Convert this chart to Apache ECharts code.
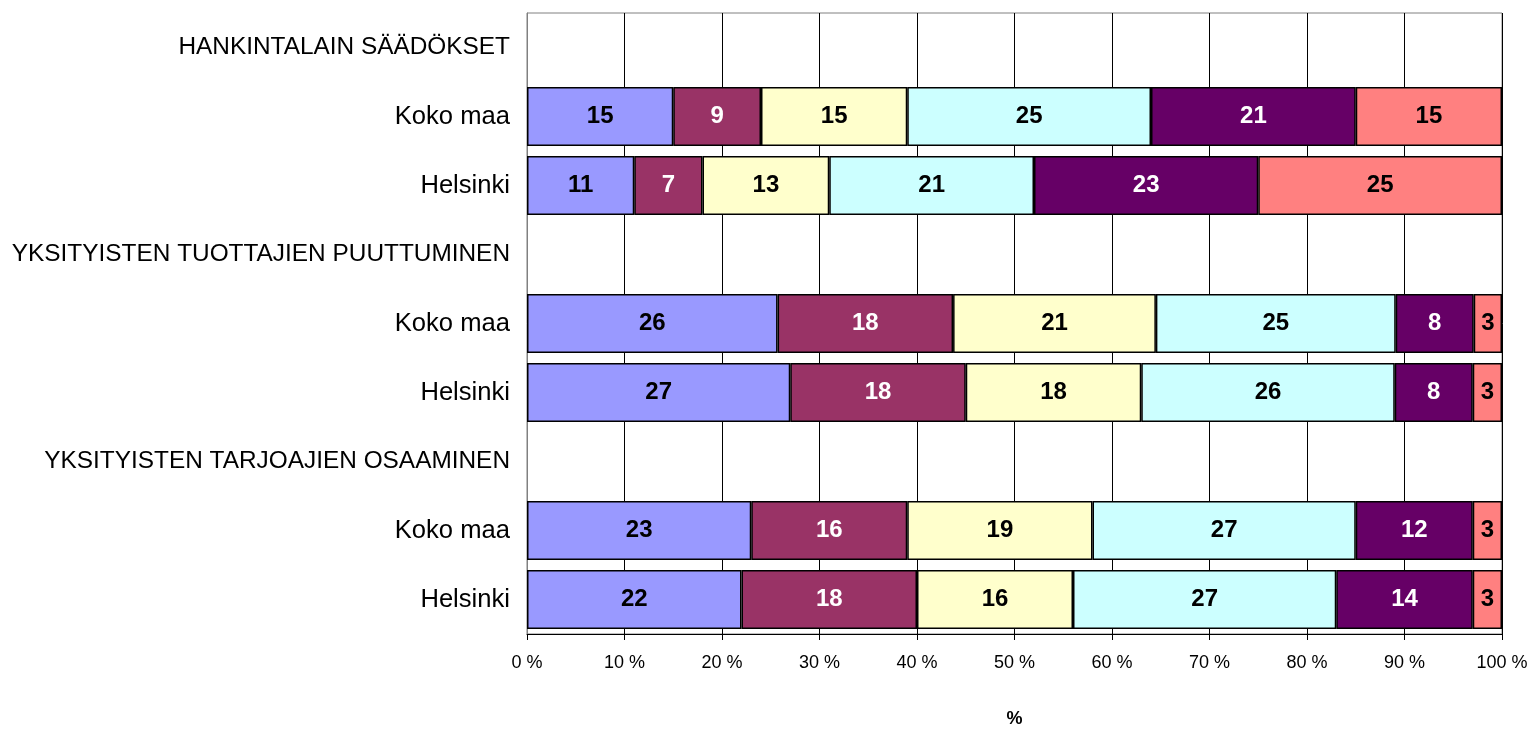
<!DOCTYPE html>
<html>
<head>
<meta charset="utf-8">
<script src="https://cdn.jsdelivr.net/npm/echarts@6/dist/echarts.min.js"></script>
<style>
html,body{margin:0;padding:0;background:#fff;}
#chart{width:1535px;height:733px;}
</style>
</head>
<body>
<div id="chart"></div>
<script>
const categories = ['HANKINTALAIN SÄÄDÖKSET','Koko maa','Helsinki','YKSITYISTEN TUOTTAJIEN PUUTTUMINEN','Koko maa','Helsinki','YKSITYISTEN TARJOAJIEN OSAAMINEN','Koko maa','Helsinki'];
const headerRows = [0,3,6];
const seriesNames = ['1','2','3','4','5','6'];
const s1 = [null,15,11,null,25.7,27,null,23,22];
const s2 = [null,9,7,null,18.0,18,null,16,18];
const s3 = [null,15,13,null,20.8,18,null,19,16];
const s4 = [null,25,21,null,24.6,26,null,27,27];
const s5 = [null,21,23,null,8.0,8,null,12,14];
const s6 = [null,15,25,null,2.9,3,null,3,3];
const xTicks = [0,10,20,30,40,50,60,70,80,90,100];

const values = [s1,s2,s3,s4,s5,s6];
const colors = ['#9999FF','#993366','#FFFFCC','#CCFFFF','#660066','#FF8080'];
const labelColors = ['#000','#fff','#000','#000','#fff','#000'];
const FONT = 'Arial, "Liberation Sans", sans-serif';

const chart = echarts.init(document.getElementById('chart'));
chart.setOption({
  animation:false,
  backgroundColor:'#fff',
  grid:{left:527,right:33,top:13,bottom:93,containLabel:false,show:true,borderColor:'#808080',borderWidth:1},
  xAxis:{
    type:'value',min:xTicks[0],max:xTicks[xTicks.length-1],interval:10,
    name:'%',nameLocation:'middle',nameGap:76,
    nameTextStyle:{fontFamily:FONT,fontSize:18,fontWeight:'bold',color:'#000'},
    axisLine:{show:true,lineStyle:{color:'#000',width:1}},
    axisTick:{show:true,length:6,lineStyle:{color:'#000'}},
    axisLabel:{fontFamily:FONT,fontSize:18,color:'#000',margin:20,formatter:'{value} %'},
    splitLine:{show:true,lineStyle:{color:'#000',width:1}}
  },
  yAxis:{
    type:'category',inverse:true,data:categories,
    axisLine:{show:true,lineStyle:{color:'#808080'}},
    axisTick:{show:false},
    axisLabel:{fontFamily:FONT,fontSize:24,color:'#000',margin:17,
      formatter:(v,i)=>headerRows.indexOf(i)>=0?'{h|'+v+'}':'{r|'+v+'}',
      rich:{h:{fontFamily:FONT,fontSize:24.4,color:'#000'},r:{fontFamily:FONT,fontSize:25.6,color:'#000'}}}
  },
  series: values.map((v,i)=>({
    name:seriesNames[i],type:'bar',stack:'all',data:v,barWidth:59,
    itemStyle:{color:colors[i],borderColor:'#000',borderWidth:1.5},
    label:{show:true,position:'inside',fontFamily:FONT,fontSize:24,fontWeight:'bold',color:labelColors[i],
      formatter:p=>p.value==null?'':String(Math.round(p.value))}
  }))
});
</script>
</body>
</html>
